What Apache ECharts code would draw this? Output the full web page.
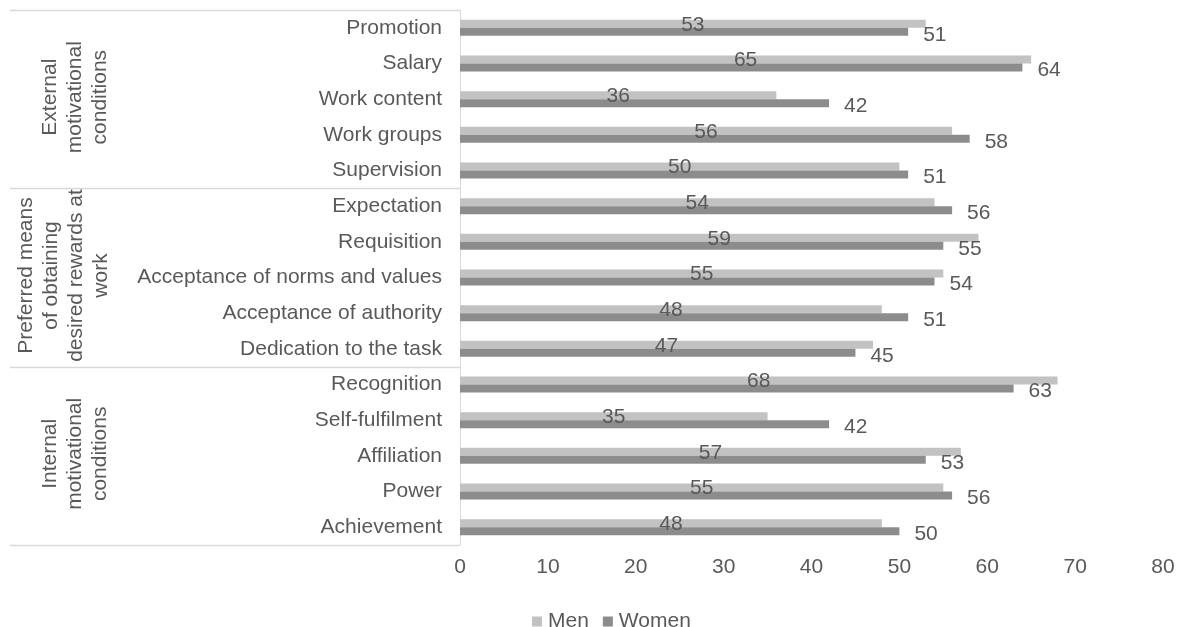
<!DOCTYPE html>
<html>
<head>
<meta charset="utf-8">
<script src="https://cdn.jsdelivr.net/npm/echarts@6/dist/echarts.min.js"></script>
<style>
  html, body { margin: 0; padding: 0; background: #fff; }
  #chart { width: 1186px; height: 627px; }
</style>
</head>
<body>
<div id="chart"></div>
<script>
// 类目（从上到下）
const categories = [
  'Promotion', 'Salary', 'Work content', 'Work groups', 'Supervision',
  'Expectation', 'Requisition', 'Acceptance of norms and values', 'Acceptance of authority', 'Dedication to the task',
  'Recognition', 'Self-fulfilment', 'Affiliation', 'Power', 'Achievement'
];

// 分组（每组 5 个类目）
const groups = [
  { name: 'External\nmotivational\nconditions', from: 0, to: 4, x: 75 },
  { name: 'Preferred means\nof obtaining\ndesired rewards at\nwork', from: 5, to: 9, x: 64 },
  { name: 'Internal\nmotivational\nconditions', from: 10, to: 14, x: 75 }
];

const menValues = [53, 65, 36, 56, 50, 54, 59, 55, 48, 47, 68, 35, 57, 55, 48];
const womenValues = [51, 64, 42, 58, 51, 56, 55, 54, 51, 45, 63, 42, 53, 56, 50];

const xTicks = [0, 10, 20, 30, 40, 50, 60, 70, 80];

const FONT = "'Liberation Sans', Arial, sans-serif";
const FS = 21;
const TEXT = '#595959';
const LINE = '#d9d9d9';

const chart = echarts.init(document.getElementById('chart'));

const option = {
  animation: false,
  textStyle: { fontFamily: FONT, color: TEXT },
  grid: { left: 460, right: 23, top: 10, bottom: 82 },
  legend: {
    top: 606,
    left: 527,
    icon: 'rect',
    itemWidth: 10,
    itemHeight: 10,
    itemGap: 14,
    textStyle: { fontFamily: FONT, fontSize: FS, color: TEXT, padding: [0, 0, 0, 1] },
    data: ['Men', 'Women']
  },
  xAxis: {
    type: 'value',
    min: xTicks[0],
    max: xTicks[xTicks.length - 1],
    interval: 10,
    axisLine: { show: false },
    axisTick: { show: false },
    splitLine: { show: false },
    axisLabel: { fontFamily: FONT, fontSize: FS, color: TEXT, margin: 12 }
  },
  yAxis: {
    type: 'category',
    inverse: true,
    data: categories,
    axisLine: { show: true, lineStyle: { color: LINE } },
    axisTick: { show: false },
    axisLabel: { fontFamily: FONT, fontSize: FS, color: TEXT, margin: 18 }
  },
  series: [
    {
      name: 'Men',
      type: 'bar',
      data: menValues,
      barWidth: 8,
      barGap: '0%',
      itemStyle: { color: '#c2c2c2' },
      label: {
        show: true,
        position: 'inside',
        offset: [0, 1],
        fontFamily: FONT,
        fontSize: FS,
        color: TEXT
      }
    },
    {
      name: 'Women',
      type: 'bar',
      data: womenValues,
      barWidth: 8,
      barGap: '0%',
      itemStyle: { color: '#8c8c8c' },
      label: {
        show: true,
        position: 'right',
        distance: 15,
        offset: [0, 3],
        fontFamily: FONT,
        fontSize: FS,
        color: TEXT
      }
    }
  ]
};

chart.setOption(option);

// 左侧分组标签和分隔线
const py = (i) => chart.convertToPixel({ yAxisIndex: 0 }, categories[i]);
const step = py(1) - py(0);
const gridLeft = option.grid.left;
const graphics = [];
const bounds = [];
groups.forEach((g, idx) => {
  const top = py(g.from) - step / 2;
  const bottom = py(g.to) + step / 2;
  if (idx === 0) bounds.push(top);
  bounds.push(bottom);
  graphics.push({
    type: 'text',
    x: g.x,
    y: (top + bottom) / 2 - 2,
    rotation: Math.PI / 2,
    style: {
      text: g.name,
      fontFamily: FONT,
      fontSize: FS,
      fill: TEXT,
      align: 'center',
      verticalAlign: 'middle',
      lineHeight: 25
    }
  });
});
bounds.forEach((y) => {
  graphics.push({
    type: 'line',
    shape: { x1: 10, y1: Math.round(y) + 0.5, x2: gridLeft, y2: Math.round(y) + 0.5 },
    style: { stroke: LINE, lineWidth: 1.5 }
  });
});
chart.setOption({ graphic: graphics });
</script>
</body>
</html>
